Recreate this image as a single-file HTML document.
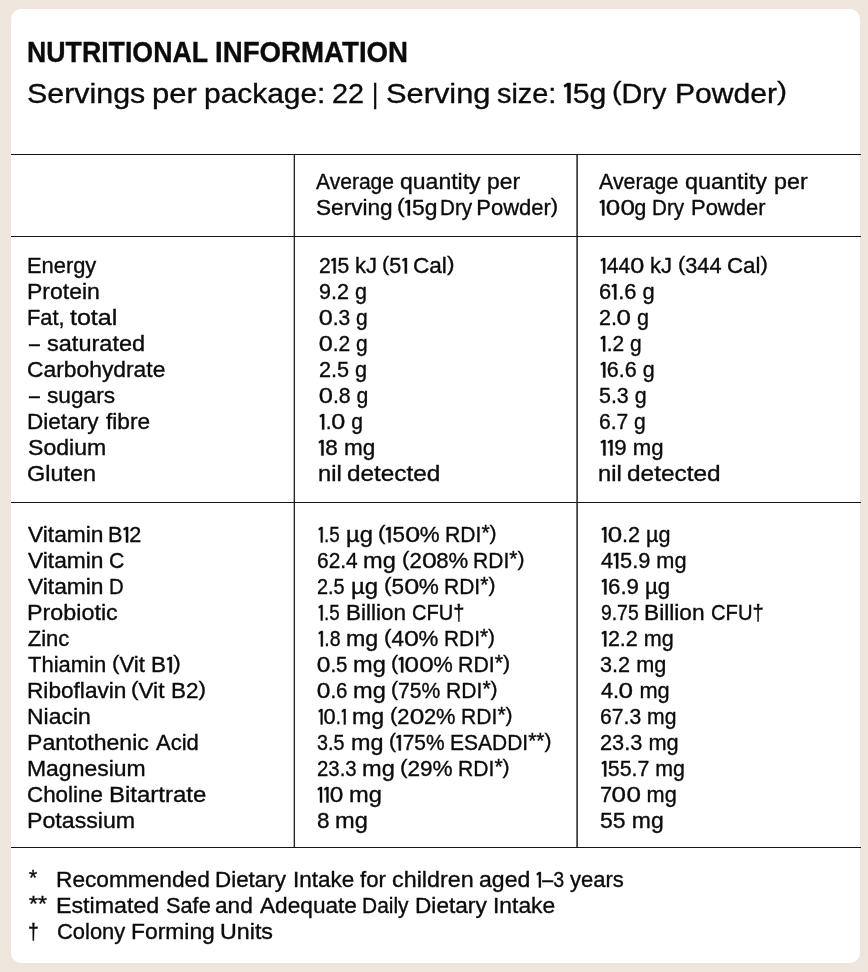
<!DOCTYPE html>
<html lang="en"><head><meta charset="utf-8"><title>Nutritional Information</title>
<style>
html,body{margin:0;padding:0}
body{width:868px;height:972px;background:#eee6dd;position:relative;overflow:hidden;font-family:"Liberation Sans",sans-serif;color:#0b0b0b}
.card{position:absolute;left:11px;top:9px;width:849px;height:954px;background:#fff;border-radius:10px}
.hl{position:absolute;left:11px;width:849.6px;height:1px;background:#141414}
.vl{position:absolute;top:154px;height:694px;width:2px}
.txt{position:absolute;left:0;top:0;width:868px;height:972px;will-change:transform}
.t{position:absolute;white-space:pre;line-height:1;transform-origin:0 0;font-size:22px;-webkit-text-stroke:.35px #0b0b0b}
.s{font-size:28.5px}
.h{font-size:30px;font-weight:700}
.t svg{width:.32em;height:.705em;vertical-align:baseline;fill:currentColor;stroke:currentColor;stroke-width:1.5;stroke-linejoin:round;overflow:visible}.t b{font-weight:400;display:inline-block;transform:scaleX(1.2);margin:0 .05em}
.t i{font-style:normal;display:inline-block;transform:scaleY(.92);transform-origin:50% -.477em}
.t u{text-decoration:none;position:relative;top:-.07em}
</style></head><body>
<div class="card"></div>
<div class="hl" style="top:154px"></div>
<div class="hl" style="top:236px"></div>
<div class="hl" style="top:502px"></div>
<div class="hl" style="top:847px"></div>
<div class="vl" style="left:293px;background:linear-gradient(90deg,rgba(12,12,12,0.3) 50%,rgba(12,12,12,0.9) 50%)"></div>
<div class="vl" style="left:576px;background:linear-gradient(90deg,rgba(12,12,12,0.6) 50%,rgba(12,12,12,0.78) 50%)"></div>
<div class="txt">
<div class="t h" style="left:27.19px;top:37.00px;transform:scaleX(0.8904)">NUTRITIONAL</div>
<div class="t h" style="left:214.69px;top:37.00px;transform:scaleX(0.9220)">INFORMATION</div>
<div class="t s" style="left:27.17px;top:79.00px;transform:scaleX(1.0667)">Servings</div>
<div class="t s" style="left:152.09px;top:79.00px;transform:scaleX(1.0897)">per</div>
<div class="t s" style="left:204.41px;top:79.00px;transform:scaleX(1.0493)">package:</div>
<div class="t s" style="left:331.74px;top:79.00px;transform:scaleX(1.0085)">22</div>
<div class="t s" style="left:371.80px;top:79.00px;transform:scaleX(0.8400)">|</div>
<div class="t s" style="left:386.15px;top:79.00px;transform:scaleX(1.0800)">Serving</div>
<div class="t s" style="left:496.74px;top:79.00px;transform:scaleX(1.0135)">size:</div>
<div class="t s" style="left:562.96px;top:79.00px;transform:scaleX(1.0588)"><svg viewBox="0 0 32 70.5"><path d="M14.6 0H24.9V70.5H14.6V11.4L5.4 15.2 3 7.6Z"/></svg>5g</div>
<div class="t s" style="left:612.24px;top:79.00px;transform:scaleX(1.0095)"><i>(</i>Dry</div>
<div class="t s" style="left:675.12px;top:79.00px;transform:scaleX(1.0562)">Powder<i>)</i></div>
<div class="t" style="left:316.49px;top:171.00px;transform:scaleX(0.9568)">Average</div>
<div class="t" style="left:399.72px;top:171.00px;transform:scaleX(1.0458)">quantity</div>
<div class="t" style="left:486.70px;top:171.00px;transform:scaleX(1.0393)">per</div>
<div class="t" style="left:315.98px;top:197.00px;transform:scaleX(1.0276)">Serving</div>
<div class="t" style="left:396.70px;top:197.00px;transform:scaleX(1.0414)"><i>(</i><svg viewBox="0 0 32 70.5"><path d="M14.6 0H24.9V70.5H14.6V11.4L5.4 15.2 3 7.6Z"/></svg>5g</div>
<div class="t" style="left:439.61px;top:197.00px;transform:scaleX(0.9385)">Dry</div>
<div class="t" style="left:476.25px;top:197.00px;transform:scaleX(1.0000)">Powder<i>)</i></div>
<div class="t" style="left:599.49px;top:171.00px;transform:scaleX(0.9722)">Average</div>
<div class="t" style="left:684.70px;top:171.00px;transform:scaleX(1.0621)">quantity</div>
<div class="t" style="left:773.68px;top:171.00px;transform:scaleX(1.0574)">per</div>
<div class="t" style="left:599.26px;top:197.00px;transform:scaleX(0.9839)"><svg viewBox="0 0 32 70.5"><path d="M14.6 0H24.9V70.5H14.6V11.4L5.4 15.2 3 7.6Z"/></svg><b>0</b><b>0</b>g</div>
<div class="t" style="left:652.11px;top:197.00px;transform:scaleX(0.9385)">Dry</div>
<div class="t" style="left:691.25px;top:197.00px;transform:scaleX(0.9979)">Powder</div>
<div class="t" style="left:27.26px;top:255.00px;transform:scaleX(0.9941)">Energy</div>
<div class="t" style="left:318.54px;top:255.00px;transform:scaleX(0.9580)">2<svg viewBox="0 0 32 70.5"><path d="M14.6 0H24.9V70.5H14.6V11.4L5.4 15.2 3 7.6Z"/></svg>5</div>
<div class="t" style="left:355.00px;top:255.00px;transform:scaleX(1.0000)">kJ</div>
<div class="t" style="left:381.78px;top:255.00px;transform:scaleX(0.9796)"><i>(</i>5<svg viewBox="0 0 32 70.5"><path d="M14.6 0H24.9V70.5H14.6V11.4L5.4 15.2 3 7.6Z"/></svg></div>
<div class="t" style="left:413.47px;top:255.00px;transform:scaleX(1.0261)">Cal<i>)</i></div>
<div class="t" style="left:599.52px;top:255.00px;transform:scaleX(0.9556)"><svg viewBox="0 0 32 70.5"><path d="M14.6 0H24.9V70.5H14.6V11.4L5.4 15.2 3 7.6Z"/></svg>44<b>0</b></div>
<div class="t" style="left:650.00px;top:255.00px;transform:scaleX(1.0000)">kJ</div>
<div class="t" style="left:677.51px;top:255.00px;transform:scaleX(0.9882)"><i>(</i>344</div>
<div class="t" style="left:727.24px;top:255.00px;transform:scaleX(1.0131)">Cal<i>)</i></div>
<div class="t" style="left:27.17px;top:281.00px;transform:scaleX(1.0449)">Protein</div>
<div class="t" style="left:318.77px;top:281.00px;transform:scaleX(0.9787)">9.2 g</div>
<div class="t" style="left:598.50px;top:281.00px;transform:scaleX(0.9953)">6<svg viewBox="0 0 32 70.5"><path d="M14.6 0H24.9V70.5H14.6V11.4L5.4 15.2 3 7.6Z"/></svg>.6 g</div>
<div class="t" style="left:27.26px;top:307.00px;transform:scaleX(0.9927)">Fat,</div>
<div class="t" style="left:69.72px;top:307.00px;transform:scaleX(1.1375)">total</div>
<div class="t" style="left:319.02px;top:307.00px;transform:scaleX(0.9543)"><b>0</b>.3 g</div>
<div class="t" style="left:598.52px;top:307.00px;transform:scaleX(0.9796)">2.<b>0</b> g</div>
<div class="t" style="left:28.97px;top:333.00px;transform:scaleX(0.8824)">–</div>
<div class="t" style="left:47.47px;top:333.00px;transform:scaleX(1.0694)">saturated</div>
<div class="t" style="left:319.02px;top:333.00px;transform:scaleX(0.9543)"><b>0</b>.2 g</div>
<div class="t" style="left:599.52px;top:333.00px;transform:scaleX(0.9524)"><svg viewBox="0 0 32 70.5"><path d="M14.6 0H24.9V70.5H14.6V11.4L5.4 15.2 3 7.6Z"/></svg>.2 g</div>
<div class="t" style="left:27.46px;top:359.00px;transform:scaleX(1.0380)">Carbohydrate</div>
<div class="t" style="left:318.52px;top:359.00px;transform:scaleX(0.9840)">2.5 g</div>
<div class="t" style="left:599.51px;top:359.00px;transform:scaleX(0.9770)"><svg viewBox="0 0 32 70.5"><path d="M14.6 0H24.9V70.5H14.6V11.4L5.4 15.2 3 7.6Z"/></svg>6.6 g</div>
<div class="t" style="left:28.97px;top:385.00px;transform:scaleX(0.8824)">–</div>
<div class="t" style="left:47.48px;top:385.00px;transform:scaleX(1.0308)">sugars</div>
<div class="t" style="left:319.02px;top:385.00px;transform:scaleX(0.9645)"><b>0</b>.8 g</div>
<div class="t" style="left:598.77px;top:385.00px;transform:scaleX(0.9734)">5.3 g</div>
<div class="t" style="left:27.20px;top:411.00px;transform:scaleX(1.0257)">Dietary</div>
<div class="t" style="left:105.99px;top:411.00px;transform:scaleX(1.0299)">fibre</div>
<div class="t" style="left:318.52px;top:411.00px;transform:scaleX(0.9548)"><svg viewBox="0 0 32 70.5"><path d="M14.6 0H24.9V70.5H14.6V11.4L5.4 15.2 3 7.6Z"/></svg>.<b>0</b> g</div>
<div class="t" style="left:598.54px;top:411.00px;transform:scaleX(0.9572)">6.7 g</div>
<div class="t" style="left:27.71px;top:437.00px;transform:scaleX(1.0483)">Sodium</div>
<div class="t" style="left:318.49px;top:437.00px;transform:scaleX(1.0230)"><svg viewBox="0 0 32 70.5"><path d="M14.6 0H24.9V70.5H14.6V11.4L5.4 15.2 3 7.6Z"/></svg>8 mg</div>
<div class="t" style="left:599.50px;top:437.00px;transform:scaleX(1.0082)"><svg viewBox="0 0 32 70.5"><path d="M14.6 0H24.9V70.5H14.6V11.4L5.4 15.2 3 7.6Z"/></svg><svg viewBox="0 0 32 70.5"><path d="M14.6 0H24.9V70.5H14.6V11.4L5.4 15.2 3 7.6Z"/></svg>9 mg</div>
<div class="t" style="left:27.44px;top:463.00px;transform:scaleX(1.0640)">Gluten</div>
<div class="t" style="left:318.15px;top:463.00px;transform:scaleX(1.0769)">nil</div>
<div class="t" style="left:347.17px;top:463.00px;transform:scaleX(1.1061)">detected</div>
<div class="t" style="left:598.15px;top:463.00px;transform:scaleX(1.0769)">nil</div>
<div class="t" style="left:627.17px;top:463.00px;transform:scaleX(1.1091)">detected</div>
<div class="t" style="left:28.25px;top:524.00px;transform:scaleX(1.0348)">Vitamin</div>
<div class="t" style="left:108.28px;top:524.00px;transform:scaleX(0.9840)">B<svg viewBox="0 0 32 70.5"><path d="M14.6 0H24.9V70.5H14.6V11.4L5.4 15.2 3 7.6Z"/></svg>2</div>
<div class="t" style="left:317.82px;top:524.00px;transform:scaleX(0.8542)"><svg viewBox="0 0 32 70.5"><path d="M14.6 0H24.9V70.5H14.6V11.4L5.4 15.2 3 7.6Z"/></svg>.5</div>
<div class="t" style="left:345.65px;top:524.00px;transform:scaleX(1.0778)">µg</div>
<div class="t" style="left:378.23px;top:524.00px;transform:scaleX(1.0170)"><i>(</i><svg viewBox="0 0 32 70.5"><path d="M14.6 0H24.9V70.5H14.6V11.4L5.4 15.2 3 7.6Z"/></svg>5<b>0</b>%</div>
<div class="t" style="left:444.57px;top:524.00px;transform:scaleX(0.9606)">RDI<u>*</u><i>)</i></div>
<div class="t" style="left:600.76px;top:524.00px;transform:scaleX(0.9819)"><svg viewBox="0 0 32 70.5"><path d="M14.6 0H24.9V70.5H14.6V11.4L5.4 15.2 3 7.6Z"/></svg><b>0</b>.2 µg</div>
<div class="t" style="left:28.25px;top:550.00px;transform:scaleX(1.0348)">Vitamin</div>
<div class="t" style="left:109.04px;top:550.00px;transform:scaleX(0.9649)">C</div>
<div class="t" style="left:316.80px;top:550.00px;transform:scaleX(0.9515)">62.4</div>
<div class="t" style="left:363.16px;top:550.00px;transform:scaleX(1.0714)">mg</div>
<div class="t" style="left:401.74px;top:550.00px;transform:scaleX(1.0078)"><i>(</i>2<b>0</b>8%</div>
<div class="t" style="left:473.32px;top:550.00px;transform:scaleX(0.9576)">RDI<u>*</u><i>)</i></div>
<div class="t" style="left:600.50px;top:550.00px;transform:scaleX(0.9882)">4<svg viewBox="0 0 32 70.5"><path d="M14.6 0H24.9V70.5H14.6V11.4L5.4 15.2 3 7.6Z"/></svg>5.9 mg</div>
<div class="t" style="left:28.25px;top:576.00px;transform:scaleX(1.0348)">Vitamin</div>
<div class="t" style="left:108.88px;top:576.00px;transform:scaleX(0.9245)">D</div>
<div class="t" style="left:316.85px;top:576.00px;transform:scaleX(0.9043)">2.5</div>
<div class="t" style="left:351.14px;top:576.00px;transform:scaleX(1.0889)">µg</div>
<div class="t" style="left:383.72px;top:576.00px;transform:scaleX(1.0242)"><i>(</i>5<b>0</b>%</div>
<div class="t" style="left:444.08px;top:576.00px;transform:scaleX(0.9557)">RDI<u>*</u><i>)</i></div>
<div class="t" style="left:600.75px;top:576.00px;transform:scaleX(1.0075)"><svg viewBox="0 0 32 70.5"><path d="M14.6 0H24.9V70.5H14.6V11.4L5.4 15.2 3 7.6Z"/></svg>6.9 µg</div>
<div class="t" style="left:26.90px;top:602.00px;transform:scaleX(1.0599)">Probiotic</div>
<div class="t" style="left:317.82px;top:602.00px;transform:scaleX(0.8542)"><svg viewBox="0 0 32 70.5"><path d="M14.6 0H24.9V70.5H14.6V11.4L5.4 15.2 3 7.6Z"/></svg>.5</div>
<div class="t" style="left:345.71px;top:602.00px;transform:scaleX(1.0224)">Billion</div>
<div class="t" style="left:412.09px;top:602.00px;transform:scaleX(0.9127)">CFU†</div>
<div class="t" style="left:600.59px;top:602.00px;transform:scaleX(0.8788)">9.75</div>
<div class="t" style="left:644.45px;top:602.00px;transform:scaleX(1.0314)">Billion</div>
<div class="t" style="left:711.08px;top:602.00px;transform:scaleX(0.9182)">CFU†</div>
<div class="t" style="left:27.75px;top:628.00px;transform:scaleX(1.0000)">Zinc</div>
<div class="t" style="left:317.81px;top:628.00px;transform:scaleX(0.8854)"><svg viewBox="0 0 32 70.5"><path d="M14.6 0H24.9V70.5H14.6V11.4L5.4 15.2 3 7.6Z"/></svg>.8</div>
<div class="t" style="left:346.18px;top:628.00px;transform:scaleX(1.0536)">mg</div>
<div class="t" style="left:384.23px;top:628.00px;transform:scaleX(1.0145)"><i>(</i>4<b>0</b>%</div>
<div class="t" style="left:444.09px;top:628.00px;transform:scaleX(0.9488)">RDI<u>*</u><i>)</i></div>
<div class="t" style="left:600.76px;top:628.00px;transform:scaleX(0.9793)"><svg viewBox="0 0 32 70.5"><path d="M14.6 0H24.9V70.5H14.6V11.4L5.4 15.2 3 7.6Z"/></svg>2.2 mg</div>
<div class="t" style="left:28.00px;top:654.00px;transform:scaleX(1.0000)">Thiamin</div>
<div class="t" style="left:111.74px;top:654.00px;transform:scaleX(1.0080)"><i>(</i>Vit</div>
<div class="t" style="left:150.72px;top:654.00px;transform:scaleX(1.0190)">B<svg viewBox="0 0 32 70.5"><path d="M14.6 0H24.9V70.5H14.6V11.4L5.4 15.2 3 7.6Z"/></svg><i>)</i></div>
<div class="t" style="left:317.29px;top:654.00px;transform:scaleX(0.9286)"><b>0</b>.5</div>
<div class="t" style="left:353.16px;top:654.00px;transform:scaleX(1.0714)">mg</div>
<div class="t" style="left:391.27px;top:654.00px;transform:scaleX(0.9836)"><i>(</i><svg viewBox="0 0 32 70.5"><path d="M14.6 0H24.9V70.5H14.6V11.4L5.4 15.2 3 7.6Z"/></svg><b>0</b><b>0</b>%</div>
<div class="t" style="left:458.30px;top:654.00px;transform:scaleX(0.9704)">RDI<u>*</u><i>)</i></div>
<div class="t" style="left:600.01px;top:654.00px;transform:scaleX(0.9847)">3.2 mg</div>
<div class="t" style="left:26.95px;top:680.00px;transform:scaleX(1.0294)">Riboflavin</div>
<div class="t" style="left:131.22px;top:680.00px;transform:scaleX(1.0240)"><i>(</i>Vit</div>
<div class="t" style="left:170.71px;top:680.00px;transform:scaleX(1.0240)">B2<i>)</i></div>
<div class="t" style="left:317.29px;top:680.00px;transform:scaleX(0.9286)"><b>0</b>.6</div>
<div class="t" style="left:353.16px;top:680.00px;transform:scaleX(1.0714)">mg</div>
<div class="t" style="left:391.30px;top:680.00px;transform:scaleX(0.9596)"><i>(</i>75%</div>
<div class="t" style="left:446.32px;top:680.00px;transform:scaleX(0.9606)">RDI<u>*</u><i>)</i></div>
<div class="t" style="left:600.50px;top:680.00px;transform:scaleX(0.9890)">4.<b>0</b> mg</div>
<div class="t" style="left:26.92px;top:706.00px;transform:scaleX(1.0431)">Niacin</div>
<div class="t" style="left:317.84px;top:706.00px;transform:scaleX(0.8271)"><svg viewBox="0 0 32 70.5"><path d="M14.6 0H24.9V70.5H14.6V11.4L5.4 15.2 3 7.6Z"/></svg><b>0</b>.<svg viewBox="0 0 32 70.5"><path d="M14.6 0H24.9V70.5H14.6V11.4L5.4 15.2 3 7.6Z"/></svg></div>
<div class="t" style="left:352.43px;top:706.00px;transform:scaleX(1.0536)">mg</div>
<div class="t" style="left:390.00px;top:706.00px;transform:scaleX(0.9961)"><i>(</i>2<b>0</b>2%</div>
<div class="t" style="left:461.32px;top:706.00px;transform:scaleX(0.9606)">RDI<u>*</u><i>)</i></div>
<div class="t" style="left:599.79px;top:706.00px;transform:scaleX(0.9612)">67.3 mg</div>
<div class="t" style="left:26.92px;top:732.00px;transform:scaleX(1.0482)">Pantothenic</div>
<div class="t" style="left:156.00px;top:732.00px;transform:scaleX(1.0000)">Acid</div>
<div class="t" style="left:317.08px;top:732.00px;transform:scaleX(0.8966)">3.5</div>
<div class="t" style="left:350.67px;top:732.00px;transform:scaleX(1.0625)">mg</div>
<div class="t" style="left:388.81px;top:732.00px;transform:scaleX(0.9513)"><i>(</i><svg viewBox="0 0 32 70.5"><path d="M14.6 0H24.9V70.5H14.6V11.4L5.4 15.2 3 7.6Z"/></svg>75%</div>
<div class="t" style="left:450.08px;top:732.00px;transform:scaleX(0.9541)">ESADDI<u>*</u><u>*</u><i>)</i></div>
<div class="t" style="left:599.76px;top:732.00px;transform:scaleX(0.9903)">23.3 mg</div>
<div class="t" style="left:26.92px;top:758.00px;transform:scaleX(1.0429)">Magnesium</div>
<div class="t" style="left:316.82px;top:758.00px;transform:scaleX(0.9268)">23.3</div>
<div class="t" style="left:361.91px;top:758.00px;transform:scaleX(1.0714)">mg</div>
<div class="t" style="left:399.97px;top:758.00px;transform:scaleX(1.0253)"><i>(</i>29%</div>
<div class="t" style="left:458.32px;top:758.00px;transform:scaleX(0.9606)">RDI<u>*</u><i>)</i></div>
<div class="t" style="left:600.76px;top:758.00px;transform:scaleX(0.9705)"><svg viewBox="0 0 32 70.5"><path d="M14.6 0H24.9V70.5H14.6V11.4L5.4 15.2 3 7.6Z"/></svg>55.7 mg</div>
<div class="t" style="left:27.48px;top:784.00px;transform:scaleX(1.0172)">Choline</div>
<div class="t" style="left:108.59px;top:784.00px;transform:scaleX(1.0893)">Bitartrate</div>
<div class="t" style="left:317.14px;top:784.00px;transform:scaleX(0.9222)"><svg viewBox="0 0 32 70.5"><path d="M14.6 0H24.9V70.5H14.6V11.4L5.4 15.2 3 7.6Z"/></svg><svg viewBox="0 0 32 70.5"><path d="M14.6 0H24.9V70.5H14.6V11.4L5.4 15.2 3 7.6Z"/></svg><b>0</b></div>
<div class="t" style="left:349.16px;top:784.00px;transform:scaleX(1.0750)">mg</div>
<div class="t" style="left:600.26px;top:784.00px;transform:scaleX(0.9868)">7<b>0</b><b>0</b> mg</div>
<div class="t" style="left:26.91px;top:810.00px;transform:scaleX(1.0526)">Potassium</div>
<div class="t" style="left:316.98px;top:810.00px;transform:scaleX(1.0233)">8</div>
<div class="t" style="left:334.91px;top:810.00px;transform:scaleX(1.0732)">mg</div>
<div class="t" style="left:599.97px;top:810.00px;transform:scaleX(1.0422)">55 mg</div>
<div class="t" style="left:29.06px;top:869.00px;transform:scaleX(0.9455)"><u>*</u></div>
<div class="t" style="left:56.20px;top:869.00px;transform:scaleX(1.0308)">Recommended</div>
<div class="t" style="left:215.22px;top:869.00px;transform:scaleX(1.0184)">Dietary</div>
<div class="t" style="left:292.71px;top:869.00px;transform:scaleX(1.0218)">Intake</div>
<div class="t" style="left:359.75px;top:869.00px;transform:scaleX(1.0099)">for</div>
<div class="t" style="left:392.20px;top:869.00px;transform:scaleX(1.0600)">children</div>
<div class="t" style="left:478.71px;top:869.00px;transform:scaleX(1.0479)">aged</div>
<div class="t" style="left:535.80px;top:869.00px;transform:scaleX(0.8926)"><svg viewBox="0 0 32 70.5"><path d="M14.6 0H24.9V70.5H14.6V11.4L5.4 15.2 3 7.6Z"/></svg>–3</div>
<div class="t" style="left:570.00px;top:869.00px;transform:scaleX(1.0000)">years</div>
<div class="t" style="left:29.04px;top:895.00px;transform:scaleX(1.0448)"><u>*</u><u>*</u></div>
<div class="t" style="left:56.15px;top:895.00px;transform:scaleX(1.0554)">Estimated</div>
<div class="t" style="left:165.51px;top:895.00px;transform:scaleX(0.9886)">Safe</div>
<div class="t" style="left:215.48px;top:895.00px;transform:scaleX(1.0288)">and</div>
<div class="t" style="left:259.76px;top:895.00px;transform:scaleX(1.0294)">Adequate</div>
<div class="t" style="left:362.08px;top:895.00px;transform:scaleX(0.9524)">Daily</div>
<div class="t" style="left:415.20px;top:895.00px;transform:scaleX(1.0294)">Dietary</div>
<div class="t" style="left:493.18px;top:895.00px;transform:scaleX(1.0376)">Intake</div>
<div class="t" style="left:28.20px;top:921.00px;transform:scaleX(0.8821)">†</div>
<div class="t" style="left:56.50px;top:921.00px;transform:scaleX(0.9963)">Colony</div>
<div class="t" style="left:131.18px;top:921.00px;transform:scaleX(1.0386)">Forming</div>
<div class="t" style="left:219.66px;top:921.00px;transform:scaleX(1.0573)">Units</div>
</div>
</body></html>
